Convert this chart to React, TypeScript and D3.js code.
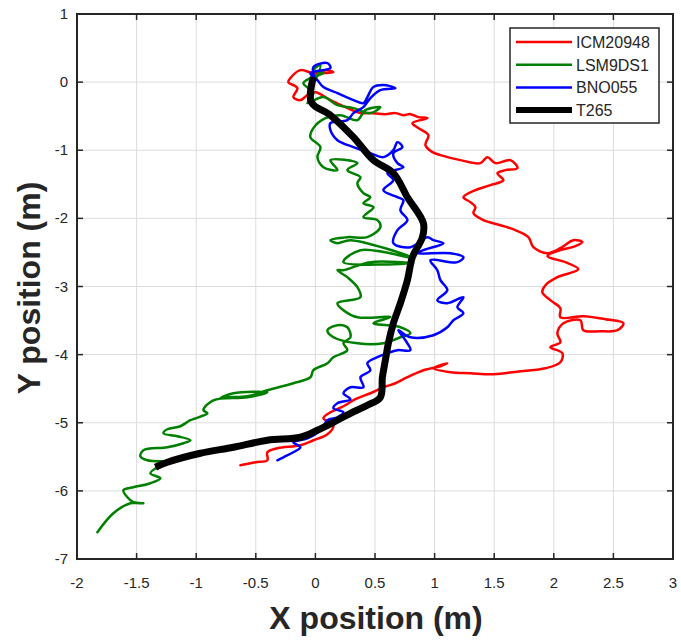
import React from "react";
import * as d3 from "d3";

// Series: [x (m), y (m)]
const icm20948: [number, number][] = [[-0.025,0.103],[0.084,0.176],[0.151,0.147],[-0.017,0.132],[-0.126,0.176],[-0.210,0.059],[-0.227,0],[-0.151,-0.088],[-0.185,-0.220],[-0.126,-0.264],[-0.067,-0.191],[0,-0.147],[0.126,-0.264],[0.252,-0.367],[0.378,-0.455],[0.461,-0.455],[0.587,-0.470],[0.671,-0.455],[0.738,-0.485],[0.797,-0.470],[0.864,-0.514],[0.940,-0.529],[0.814,-0.602],[0.864,-0.675],[0.948,-0.778],[0.923,-0.925],[0.982,-1.028],[1.049,-1.072],[1.216,-1.145],[1.384,-1.189],[1.443,-1.101],[1.510,-1.189],[1.636,-1.145],[1.695,-1.263],[1.594,-1.292],[1.527,-1.336],[1.577,-1.439],[1.468,-1.512],[1.342,-1.586],[1.242,-1.689],[1.300,-1.762],[1.342,-1.836],[1.326,-1.924],[1.409,-2.026],[1.552,-2.100],[1.678,-2.173],[1.787,-2.276],[1.829,-2.423],[1.946,-2.511],[2.055,-2.438],[2.164,-2.320],[2.240,-2.349],[2.181,-2.408],[2.055,-2.467],[1.946,-2.555],[2.097,-2.643],[2.206,-2.746],[2.030,-2.863],[1.930,-2.981],[1.904,-3.084],[1.971,-3.201],[2.055,-3.319],[2.055,-3.451],[2.248,-3.436],[2.433,-3.480],[2.584,-3.539],[2.534,-3.642],[2.391,-3.656],[2.248,-3.642],[2.223,-3.495],[2.081,-3.539],[2.030,-3.686],[2.055,-3.818],[1.971,-3.891],[2.072,-3.979],[2.055,-4.112],[1.930,-4.200],[1.720,-4.244],[1.493,-4.288],[1.300,-4.273],[1.133,-4.258],[0.990,-4.200],[1.107,-4.126],[1.049,-4.170],[0.906,-4.229],[0.772,-4.332],[0.671,-4.420],[0.570,-4.479],[0.461,-4.567],[0.336,-4.655],[0.235,-4.758],[0.126,-4.846],[0.067,-4.934],[0.151,-5.037],[0.101,-5.169],[-0.017,-5.257],[-0.126,-5.330],[-0.319,-5.374],[-0.403,-5.433],[-0.403,-5.551],[-0.503,-5.580],[-0.629,-5.624]];

const lsm9ds1: [number, number][] = [[0,0.029],[0.042,0.250],[-0.017,0.176],[0.067,0.132],[-0.042,0.059],[-0.101,-0.015],[-0.017,-0.162],[-0.067,-0.308],[0.067,-0.220],[0.185,-0.338],[0.319,-0.382],[0.461,-0.455],[0.545,-0.367],[0.419,-0.411],[0.352,-0.558],[0.210,-0.485],[0.084,-0.529],[-0.017,-0.675],[-0.042,-0.808],[0.042,-0.954],[0.017,-1.101],[0.067,-1.248],[0.185,-1.292],[0.126,-1.145],[0.352,-1.189],[0.268,-1.292],[0.378,-1.395],[0.352,-1.483],[0.403,-1.630],[0.461,-1.689],[0.403,-1.777],[0.487,-1.836],[0.403,-1.982],[0.520,-2.026],[0.545,-2.129],[0.436,-2.276],[0.268,-2.276],[0.126,-2.320],[0.185,-2.364],[0.294,-2.320],[0.822,-2.584],[0.378,-2.467],[0.235,-2.643],[0.822,-2.658],[0.461,-2.643],[0.235,-2.761],[0.185,-2.761],[0.268,-2.863],[0.352,-3.010],[0.378,-3.157],[0.185,-3.245],[0.235,-3.348],[0.352,-3.451],[0.629,-3.451],[0.487,-3.539],[0.713,-3.598],[0.797,-3.686],[0.713,-3.745],[0.570,-3.833],[0.352,-3.833],[0.151,-3.745],[0.101,-3.642],[0.185,-3.568],[0.268,-3.598],[0.294,-3.745],[0.235,-3.833],[0.268,-3.935],[0.151,-4.038],[0.101,-4.126],[-0.017,-4.229],[-0.042,-4.332],[-0.185,-4.420],[-0.403,-4.523],[-0.570,-4.611],[-0.738,-4.626],[-0.797,-4.640],[-0.688,-4.567],[-0.403,-4.552],[-0.570,-4.626],[-0.856,-4.670],[-0.940,-4.816],[-0.906,-4.861],[-1.049,-4.963],[-1.133,-5.051],[-1.242,-5.095],[-1.275,-5.154],[-1.158,-5.198],[-1.049,-5.257],[-1.107,-5.301],[-1.242,-5.360],[-1.443,-5.404],[-1.468,-5.492],[-1.409,-5.551],[-1.216,-5.580],[-1.326,-5.653],[-1.384,-5.742],[-1.300,-5.815],[-1.384,-5.888],[-1.527,-5.947],[-1.611,-5.991],[-1.577,-6.094],[-1.527,-6.167],[-1.443,-6.182],[-1.552,-6.182],[-1.695,-6.329],[-1.829,-6.608]];

const bno055: [number, number][] = [[0,0.029],[-0.017,0.220],[0.101,0.279],[0.126,0.206],[-0.042,0.132],[0.017,0.029],[0.067,-0.073],[0.185,-0.162],[0.319,-0.264],[0.403,-0.308],[0.436,-0.220],[0.487,-0.073],[0.570,-0.044],[0.671,-0.088],[0.545,-0.117],[0.461,-0.235],[0.403,-0.367],[0.319,-0.455],[0.268,-0.558],[0.126,-0.602],[0.126,-0.705],[0.185,-0.852],[0.319,-0.954],[0.461,-1.043],[0.570,-1.101],[0.654,-0.999],[0.688,-0.881],[0.730,-0.954],[0.654,-1.043],[0.688,-1.189],[0.738,-1.248],[0.604,-1.336],[0.654,-1.439],[0.570,-1.586],[0.688,-1.689],[0.738,-1.733],[0.713,-1.880],[0.772,-2.026],[0.688,-2.173],[0.654,-2.364],[0.797,-2.423],[0.940,-2.276],[0.990,-2.320],[1.074,-2.364],[0.906,-2.467],[0.856,-2.511],[1.133,-2.511],[1.242,-2.570],[1.191,-2.643],[0.965,-2.614],[1.023,-2.761],[1.049,-2.907],[1.107,-3.054],[1.023,-3.201],[1.107,-3.245],[1.242,-3.157],[1.191,-3.304],[1.242,-3.392],[1.158,-3.495],[1.107,-3.598],[0.990,-3.715],[0.797,-3.745],[0.696,-3.642],[0.755,-3.789],[0.797,-3.935],[0.688,-3.935],[0.604,-3.979],[0.520,-4.038],[0.436,-4.126],[0.461,-4.229],[0.378,-4.332],[0.403,-4.479],[0.294,-4.479],[0.235,-4.567],[0.294,-4.655],[0.185,-4.714],[0.151,-4.787],[0.235,-4.846],[0.185,-4.919],[0.101,-4.963],[0.042,-5.110],[-0.067,-5.228],[-0.185,-5.286],[-0.126,-5.360],[-0.185,-5.433],[-0.268,-5.507],[-0.319,-5.551]];

const t265: [number, number][] = [[-0.017,0.073],[-0.034,-0.294],[0.126,-0.485],[0.319,-0.808],[0.487,-1.145],[0.654,-1.336],[0.772,-1.689],[0.906,-2.070],[0.898,-2.276],[0.814,-2.570],[0.772,-2.907],[0.713,-3.245],[0.654,-3.539],[0.612,-3.833],[0.587,-4.082],[0.562,-4.332],[0.545,-4.626],[0.436,-4.743],[0.294,-4.861],[0.151,-4.993],[0.017,-5.110],[-0.126,-5.213],[-0.403,-5.257],[-0.688,-5.360],[-0.965,-5.448],[-1.242,-5.580],[-1.342,-5.653]];

const seriesNames = ["ICM20948", "LSM9DS1", "BNO055", "T265"];
const seriesColors = ["#ff0000", "#008000", "#0000ff", "#000000"];
const seriesWidths = [2.5, 2.5, 2.5, 7];
const xTicks = [-2, -1.5, -1, -0.5, 0, 0.5, 1, 1.5, 2, 2.5, 3];
const yTicks = [-7, -6, -5, -4, -3, -2, -1, 0, 1];
const xTitle = "X position (m)";
const yTitle = "Y position (m)";

const W = 681, H = 641;
const L = 77, R = 673, T = 14, B = 559;

export default function App() {
  const x = d3.scaleLinear().domain([-2, 3]).range([L, R]);
  const y = d3.scaleLinear().domain([-7, 1]).range([B, T]);
  const line = d3.line<[number, number]>().x(d => x(d[0])).y(d => y(d[1])).curve(d3.curveCatmullRom.alpha(0.5));
  const allSeries = [icm20948, lsm9ds1, bno055, t265];
  const axisColor = "#262626";
  const font = "'Liberation Sans', Arial, Helvetica, sans-serif";
  const tick = 6;
  const legX = 510, legY = 28, legW = 149, legH = 95;
  return (
    <svg width={W} height={H} style={{ position: "absolute", left: 0, top: 0, background: "#fff" }} fontFamily={font}>
      <rect x={0} y={0} width={W} height={H} fill="#fff" />
      <defs>
        <clipPath id="clip"><rect x={L} y={T} width={R - L} height={B - T} /></clipPath>
      </defs>
      {/* grid */}
      {xTicks.map(t => (
        <line key={"gx" + t} x1={x(t)} x2={x(t)} y1={T} y2={B} stroke="#dcdcdc" strokeWidth={1} />
      ))}
      {yTicks.map(t => (
        <line key={"gy" + t} x1={L} x2={R} y1={y(t)} y2={y(t)} stroke="#dcdcdc" strokeWidth={1} />
      ))}
      {/* data */}
      <g clipPath="url(#clip)">
        {allSeries.map((s, i) => (
          <path key={seriesNames[i]} d={line(s) || ""} fill="none" stroke={seriesColors[i]} strokeWidth={seriesWidths[i]} strokeLinejoin="round" strokeLinecap={i === 3 ? "butt" : "round"} />
        ))}
      </g>
      {/* ticks */}
      {xTicks.map(t => (
        <g key={"tx" + t}>
          <line x1={x(t)} x2={x(t)} y1={B} y2={B - tick} stroke={axisColor} strokeWidth={1.5} />
          <line x1={x(t)} x2={x(t)} y1={T} y2={T + tick} stroke={axisColor} strokeWidth={1.5} />
          <text x={x(t)} y={588} textAnchor="middle" fontSize={15} fill={axisColor}>{String(t)}</text>
        </g>
      ))}
      {yTicks.map(t => (
        <g key={"ty" + t}>
          <line x1={L} x2={L + tick} y1={y(t)} y2={y(t)} stroke={axisColor} strokeWidth={1.5} />
          <line x1={R} x2={R - tick} y1={y(t)} y2={y(t)} stroke={axisColor} strokeWidth={1.5} />
          <text x={68} y={y(t) + 5} textAnchor="end" fontSize={15} fill={axisColor}>{String(t)}</text>
        </g>
      ))}
      <rect x={L} y={T} width={R - L} height={B - T} fill="none" stroke={axisColor} strokeWidth={2} />
      {/* titles */}
      <text x={376} y={629} textAnchor="middle" fontSize={32} fontWeight="bold" fill={axisColor}>{xTitle}</text>
      <text transform={`translate(40,288) rotate(-90)`} textAnchor="middle" fontSize={32} fontWeight="bold" fill={axisColor}>{yTitle}</text>
      {/* legend */}
      <rect x={legX} y={legY} width={legW} height={legH} fill="#fff" stroke={axisColor} strokeWidth={1.5} />
      {seriesNames.map((n, i) => (
        <g key={"leg" + n}>
          <line x1={legX + 6} x2={legX + 62} y1={legY + 14 + i * 22.7} y2={legY + 14 + i * 22.7} stroke={seriesColors[i]} strokeWidth={i === 3 ? 6 : 2.5} />
          <text x={legX + 66} y={legY + 14 + i * 22.7 + 6} fontSize={16} fill={axisColor}>{n}</text>
        </g>
      ))}
    </svg>
  );
}
